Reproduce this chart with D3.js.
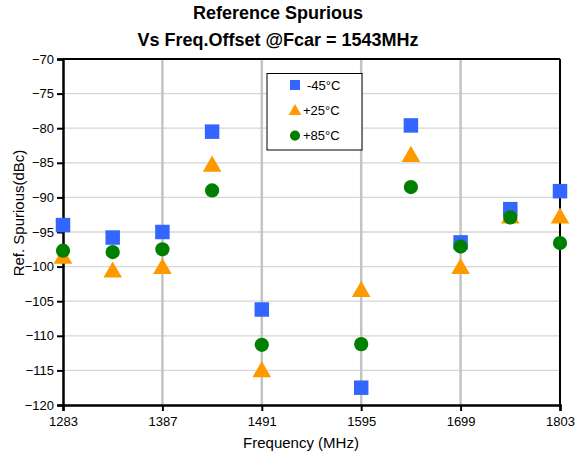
<!DOCTYPE html>
<html>
<head>
<meta charset="utf-8">
<script src="https://cdn.jsdelivr.net/npm/d3@7"></script>
<style>
  body { margin: 0; background: #fff; }
  text { font-family: Arial, "Liberation Sans", sans-serif; }
</style>
</head>
<body>
<div id="chart"></div>
<script>
// data
var freqs = [1283, 1335, 1387, 1439, 1491, 1595, 1647, 1699, 1751, 1803];
var minus45 = [-94.0, -95.8, -95.0, -80.5, -106.2, -117.5, -79.6, -96.5, -91.7, -89.1];
var plus25 = [-98.8, -100.8, -100.3, -85.5, -115.2, -103.6, -84.1, -100.3, -93.0, -93.0];
var plus85 = [-97.7, -97.9, -97.5, -89.0, -111.3, -111.2, -88.5, -97.1, -92.9, -96.6];
var xTicks = [1283, 1387, 1491, 1595, 1699, 1803];
var yTicks = [-120, -115, -110, -105, -100, -95, -90, -85, -80, -75, -70];
var seriesNames = ["-45°C", "+25°C", "+85°C"];

var width = 579, height = 457;
var margin = {top: 59, right: 19, bottom: 52, left: 63};

var svg = d3.select("#chart").append("svg")
  .attr("width", width)
  .attr("height", height);

var x = d3.scaleLinear().domain([1283, 1803]).range([margin.left, width - margin.right]);
var y = d3.scaleLinear().domain([-120, -70]).range([height - margin.bottom, margin.top]);

// horizontal grid
svg.append("g").selectAll("line").data(yTicks.slice(1, -1)).enter().append("line")
  .attr("x1", x(1283)).attr("x2", x(1803))
  .attr("y1", function(d) { return y(d); }).attr("y2", function(d) { return y(d); })
  .attr("stroke", "#d6d6d6").attr("stroke-width", 1.3);

// vertical grid
svg.append("g").selectAll("line").data(xTicks.slice(1, -1)).enter().append("line")
  .attr("x1", function(d) { return x(d); }).attr("x2", function(d) { return x(d); })
  .attr("y1", y(-70)).attr("y2", y(-120))
  .attr("stroke", "#c4c4c4").attr("stroke-width", 2.5);

// frame top/right
svg.append("line").attr("x1", x(1283)).attr("x2", x(1803)).attr("y1", y(-70)).attr("y2", y(-70))
  .attr("stroke", "#000").attr("stroke-width", 2);
svg.append("line").attr("x1", x(1803)).attr("x2", x(1803)).attr("y1", y(-70)).attr("y2", y(-120))
  .attr("stroke", "#000").attr("stroke-width", 2);

// axes
var yAxis = svg.append("g")
  .attr("transform", "translate(" + margin.left + ",0)")
  .call(d3.axisLeft(y).tickValues(yTicks).tickSize(6).tickPadding(3));
var xAxis = svg.append("g")
  .attr("transform", "translate(0," + (height - margin.bottom) + ")")
  .call(d3.axisBottom(x).tickValues(xTicks).tickSize(6).tickFormat(d3.format("d")).tickPadding(6));

[yAxis, xAxis].forEach(function(g) {
  g.select(".domain").attr("stroke", "#000").attr("stroke-width", 2.5);
  g.selectAll(".tick line").attr("stroke", "#000").attr("stroke-width", 2);
  g.selectAll(".tick text").attr("font-size", 13).attr("fill", "#000")
    .style("font-family", "Arial, 'Liberation Sans', sans-serif");
});

// markers
var sq = d3.symbol().type(d3.symbolSquare).size(210);
var tri = d3.symbol().type(d3.symbolTriangle).size(150);
var circ = d3.symbol().type(d3.symbolCircle).size(160);

function drawSeries(vals, sym, color, dy) {
  svg.append("g").selectAll("path").data(vals).enter().append("path")
    .attr("transform", function(d, i) { return "translate(" + x(freqs[i]) + "," + (y(d) + dy) + ")"; })
    .attr("d", sym)
    .attr("fill", color);
}
drawSeries(plus25, tri, "#ff9900", 0);
drawSeries(minus45, sq, "#3366ff", 0);
drawSeries(plus85, circ, "#008000", 0);

// legend
var lg = svg.append("g");
lg.append("rect").attr("x", 267).attr("y", 73.5).attr("width", 95).attr("height", 76.5)
  .attr("fill", "#fff").attr("stroke", "#000").attr("stroke-width", 1);
var legSyms = [
  d3.symbol().type(d3.symbolSquare).size(100),
  d3.symbol().type(d3.symbolTriangle).size(70),
  d3.symbol().type(d3.symbolCircle).size(80)
];
var legColors = ["#3366ff", "#ff9900", "#008000"];
var legX = [307, 303, 303];
seriesNames.forEach(function(name, i) {
  var cy = 85 + i * 25.3;
  lg.append("path").attr("transform", "translate(295," + (cy + (i === 1 ? 1 : 0)) + ")")
    .attr("d", legSyms[i]).attr("fill", legColors[i]);
  lg.append("text").attr("x", legX[i]).attr("y", cy + 4.5)
    .attr("font-size", 13).text(name);
});

// titles
svg.append("text").attr("x", 278).attr("y", 18.5).attr("text-anchor", "middle")
  .attr("font-size", 18).attr("font-weight", "bold").text("Reference Spurious");
svg.append("text").attr("x", 278).attr("y", 45.5).attr("text-anchor", "middle")
  .attr("font-size", 18).attr("font-weight", "bold").text("Vs Freq.Offset @Fcar = 1543MHz");

svg.append("text").attr("x", 301).attr("y", 448).attr("text-anchor", "middle")
  .attr("font-size", 15).text("Frequency (MHz)");
svg.append("text").attr("transform", "translate(24,213) rotate(-90)").attr("text-anchor", "middle")
  .attr("font-size", 15).text("Ref. Spurious(dBc)");
</script>
</body>
</html>
